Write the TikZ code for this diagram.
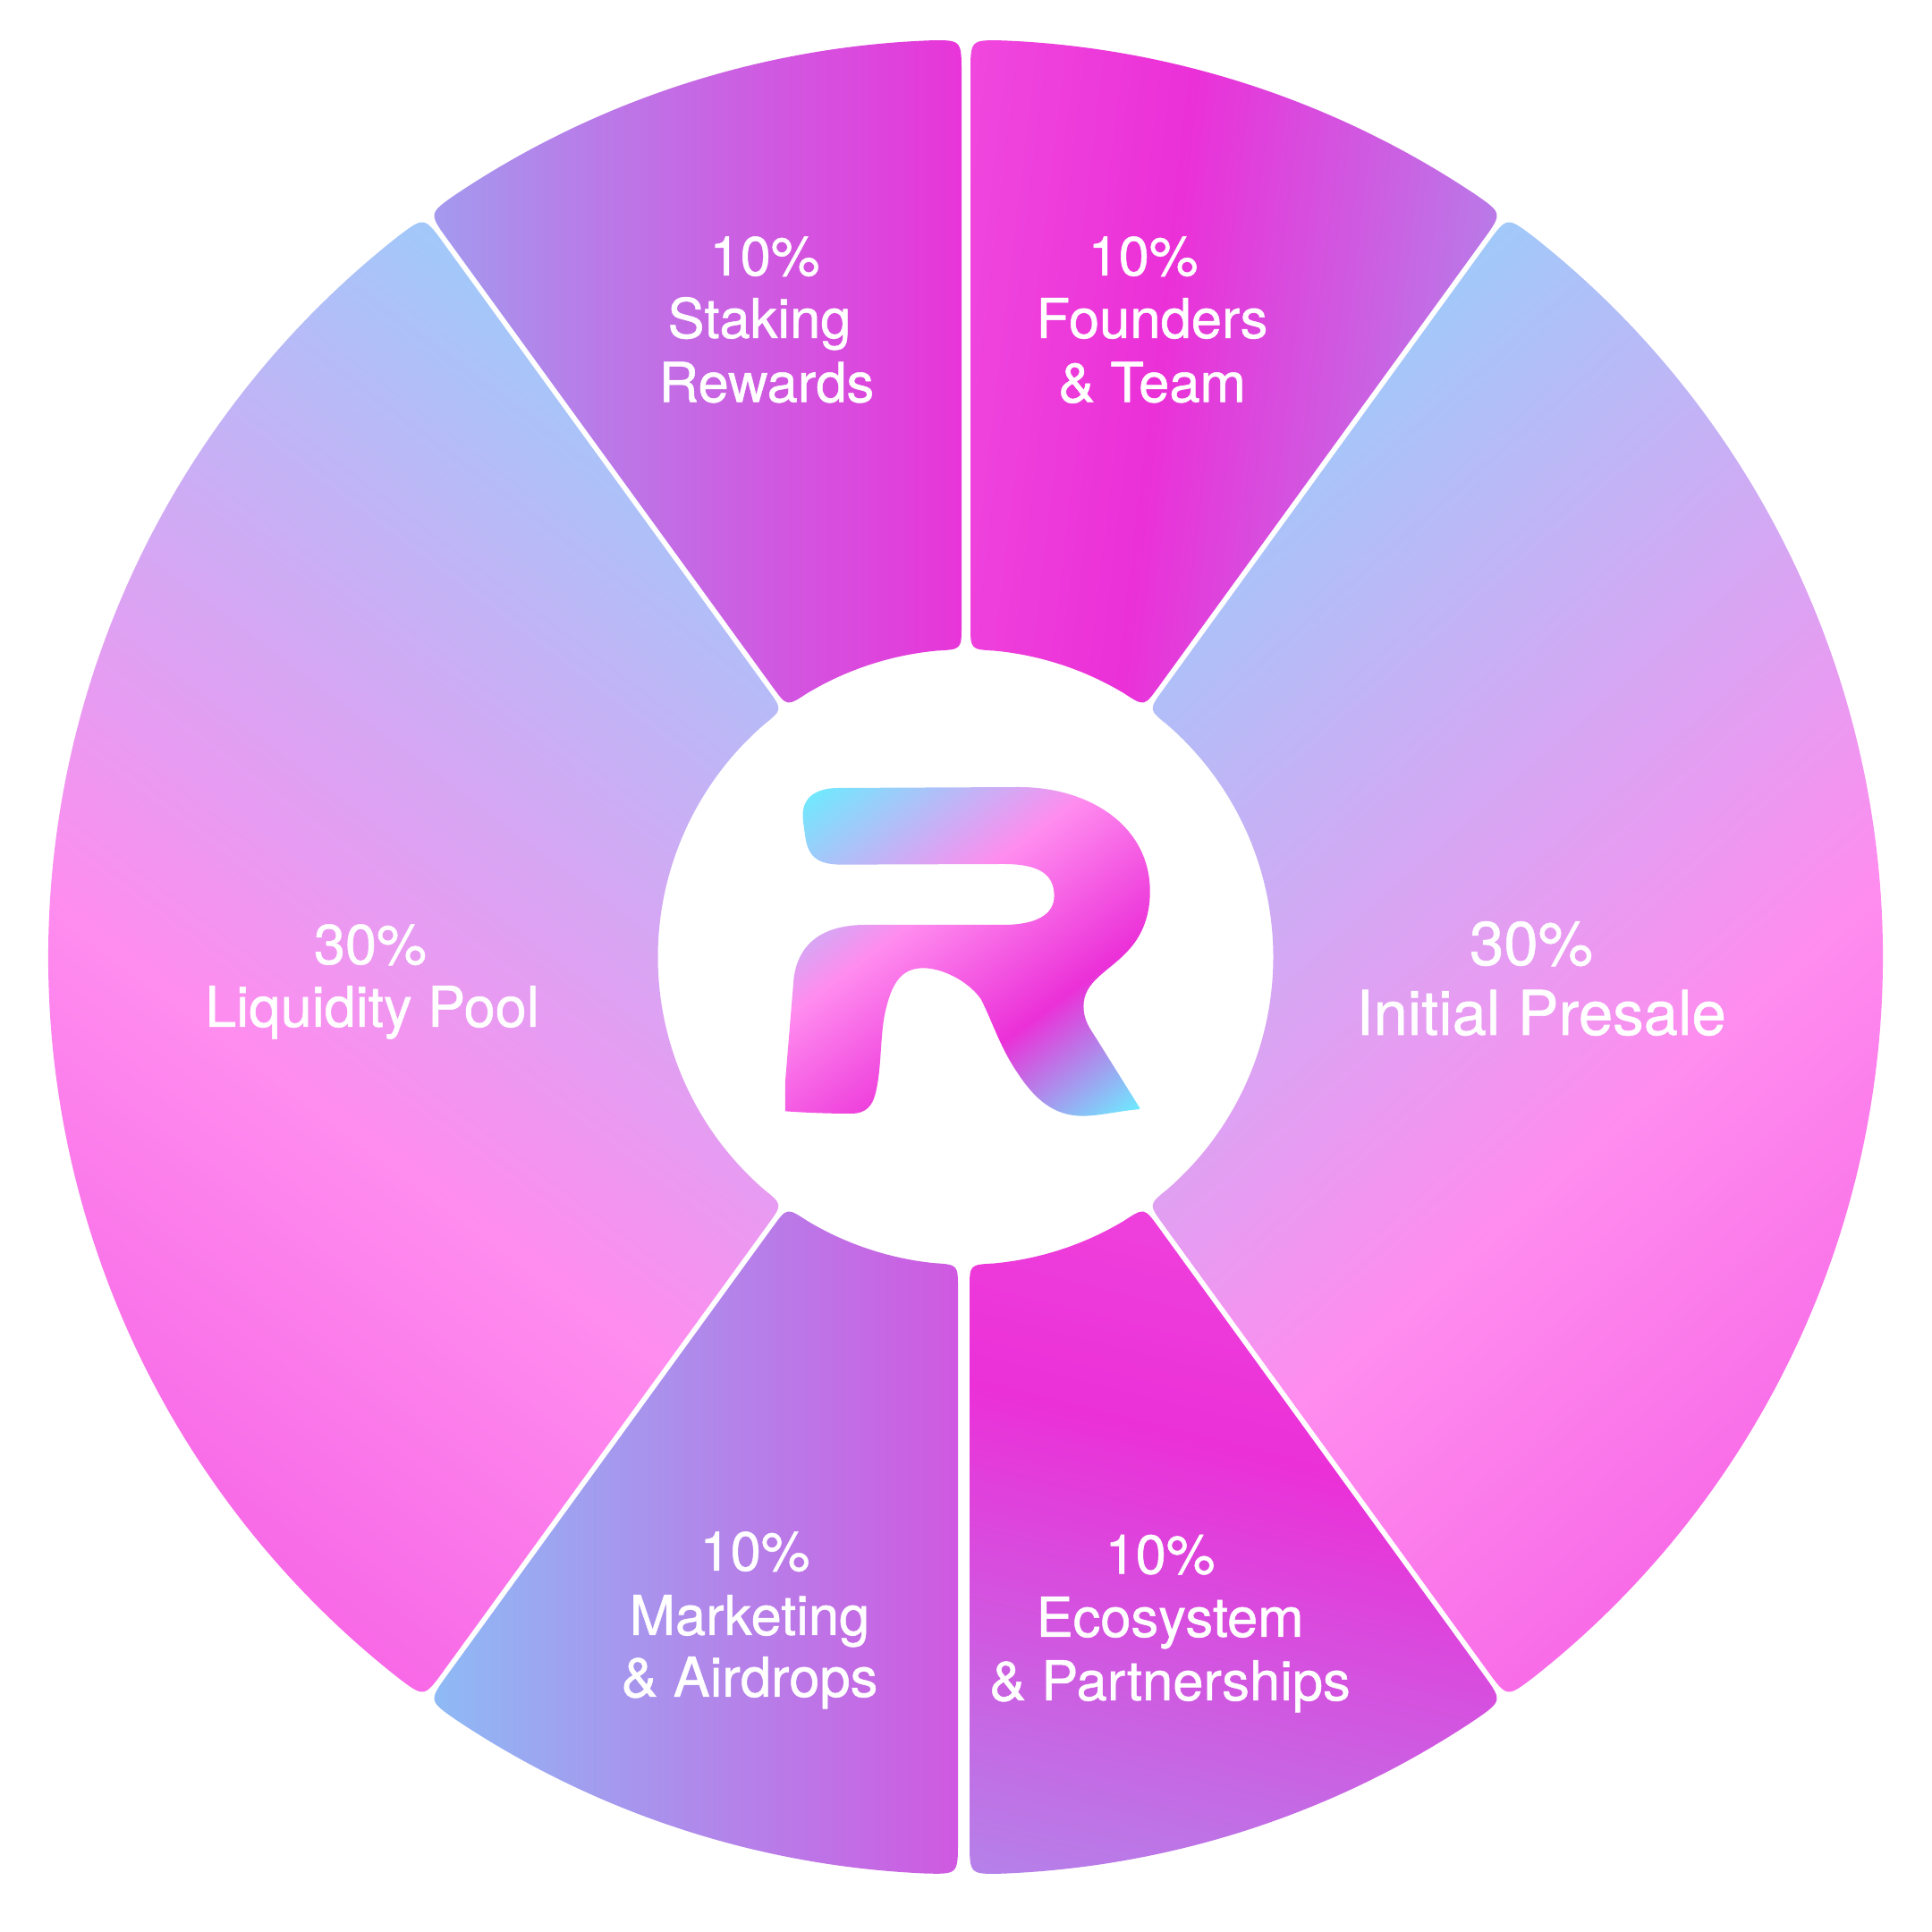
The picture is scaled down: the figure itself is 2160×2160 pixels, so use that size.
\documentclass[tikz,border=0pt]{standalone}
\usepackage{fontspec}
\setmainfont[FakeBold=0.8]{TeX Gyre Heros}
\definecolor{gcyan}{HTML}{6EEAFF}
\definecolor{gpink}{HTML}{FF8CEF}
\definecolor{gmag}{HTML}{EB30D8}
\pgfdeclarehorizontalshading{brandgrad}{100bp}{color(0bp)=(gcyan); color(25bp)=(gcyan); color(43.5bp)=(gpink); color(60bp)=(gmag); color(75bp)=(gcyan); color(100bp)=(gcyan)}
\def\Ro{1025.6}
\def\Ri{344}
\def\rhO{37}
\def\rhI{27}
\def\Wd{3000}
\newcommand\brandfill[5]{%
  \pgfmathsetmacro\sx{#1-#3*#4*cos(#5)}%
  \pgfmathsetmacro\sy{2160-#2-#3*#4*sin(#5)}%
  \begin{scope}[transform canvas={shift={(\sx pt,\sy pt)},rotate=#5}]
    \shade[shading=brandgrad] (0,-\Wd) rectangle (#4,\Wd);
  \end{scope}}
% a1 a2 g1 g2 qx qy t L ang
\newcommand\wedgeseg[9]{%
  \begin{scope}
    \pgfmathsetmacro\dO{\rhO/\Ro*57.3}%
    \pgfmathsetmacro\dI{\rhI/\Ri*57.3}%
    \pgfmathsetmacro\Ao{#1-asin(#3/\Ro)}%
    \pgfmathsetmacro\Bo{#2+asin(#4/\Ro)}%
    \pgfmathsetmacro\Ai{#1-asin(#3/\Ri)}%
    \pgfmathsetmacro\Bi{#2+asin(#4/\Ri)}%
    \pgfmathsetmacro\Aoe{#1-asin(#3/(\Ro-\rhO))}%
    \pgfmathsetmacro\Boe{#2+asin(#4/(\Ro-\rhO))}%
    \pgfmathsetmacro\Aie{#1-asin(#3/(\Ri+\rhI))}%
    \pgfmathsetmacro\Bie{#2+asin(#4/(\Ri+\rhI))}%
    \pgfmathsetmacro\Rin{\Ri+\rhI}%
    \pgfmathsetmacro\Rou{\Ro-\rhO}%
    \pgfmathsetmacro\As{\Ao-\dO}\pgfmathsetmacro\Bs{\Bo+\dO}%
    \pgfmathsetmacro\Ci{\Bi+\dI}\pgfmathsetmacro\Di{\Ai-\dI}%
    \clip[shift={(1079.5,1090)}]
      (\As:\Ro) arc[start angle=\As,end angle=\Bs,radius=\Ro]
      .. controls (\Bo:\Ro) .. (\Boe:\Rou)
      -- (\Bie:\Rin)
      .. controls (\Bi:\Ri) .. (\Ci:\Ri)
      arc[start angle=\Ci,end angle=\Di,radius=\Ri]
      .. controls (\Ai:\Ri) .. (\Aie:\Rin)
      -- (\Aoe:\Rou)
      .. controls (\Ao:\Ro) .. cycle;
    \brandfill{#5}{#6}{#7}{#8}{#9}
  \end{scope}}
\tikzset{
  x=1pt,y=1pt,
  bigtxt/.style={anchor=base,text=white,inner sep=0pt,font=\fontsize{69}{69}\selectfont},
  midtxt/.style={anchor=base,text=white,inner sep=0pt,font=\fontsize{61.5}{61.5}\selectfont},
  pooltxt/.style={anchor=base,text=white,inner sep=0pt,font=\fontsize{63}{63}\selectfont}
}
\begin{document}
\begin{tikzpicture}[x=1pt,y=1pt]
\useasboundingbox (0,0) rectangle (2160,2160);
\fill[white] (0,0) rectangle (2160,2160);
% Founders, Presale, Ecosystem, Marketing, Liquidity, Staking
\wedgeseg{90}{54}{5.5}{3}{1338}{47}{0.70}{3000}{-6.8}
\wedgeseg{54}{-54}{3}{3}{1695}{250}{0.133}{3506}{-48.6}
\wedgeseg{-54}{-90}{3}{4.5}{1118}{1555}{0.70}{4070}{-103.9}
\wedgeseg{270}{234}{8.5}{3}{1075}{1800}{0.765}{3740}{180}
\wedgeseg{234}{126}{3}{3}{471}{252}{0.133}{3620}{-126.87}
\wedgeseg{126}{90}{3}{4.5}{1100}{300}{0.70}{3600}{180}
% Logo
\begin{scope}
\clip[shift={(800,1360)},xscale=0.35714,yscale=-0.33333]
  (385,243) -- (950,240)
  .. controls (1170,240) and (1360,370) .. (1360,590)
  .. controls (1360,680) and (1330,745) .. (1290,790)
  .. controls (1230,860) and (1152,890) .. (1152,975)
  .. controls (1152,1020) and (1170,1047) .. (1190,1080)
  -- (1330,1320)
  .. controls (1270,1325) and (1200,1343) .. (1150,1343)
  .. controls (1060,1343) and (1000,1290) .. (940,1190)
  .. controls (890,1110) and (860,1010) .. (830,950)
  .. controls (790,890) and (710,847) .. (650,847)
  .. controls (580,847) and (550,900) .. (530,1000)
  .. controls (515,1075) and (520,1190) .. (500,1270)
  .. controls (490,1310) and (470,1335) .. (425,1335)
  .. controls (350,1335) and (280,1332) .. (218,1327)
  -- (218,1230) -- (245,880)
  .. controls (260,760) and (340,702) .. (470,702)
  -- (900,702)
  .. controls (1000,702) and (1060,670) .. (1060,605)
  .. controls (1060,530) and (1010,498) .. (900,498)
  -- (395,500)
  .. controls (315,500) and (288,470) .. (280,400)
  .. controls (276,370) and (273,350) .. (273,335)
  .. controls (273,270) and (320,243) .. (385,243) -- cycle;
\brandfill{897.5}{890}{0}{505}{-53.5}
\end{scope}
% Labels (x, 2160 - baseline)
\node[midtxt] (stakingpct) at (855,1852) {10\%};
\node[midtxt] (stakingone) at (849,1782) {Staking};
\node[midtxt] (stakingtwo) at (857,1710.5) {Rewards};
\node[midtxt] (founderspct) at (1278,1852) {10\%};
\node[midtxt] (foundersone) at (1288,1782) {Founders};
\node[midtxt] (founderstwo) at (1288,1710.5) {\& Team};
\node[bigtxt] (presalepct) at (1712,1081) {30\%};
\node[bigtxt] (presaleone) at (1723,1003) {Initial Presale};
\node[pooltxt] (poolpct) at (414,1082) {30\%};
\node[pooltxt] (poolone) at (416,1012) {Liquidity Pool};
\node[midtxt] (marketpct) at (844,404) {10\%};
\node[midtxt] (marketone) at (838,332) {Marketing};
\node[midtxt] (markettwo) at (838,263) {\& Airdrops};
\node[midtxt] (ecopct) at (1297,400.5) {10\%};
\node[midtxt] (ecoone) at (1308,330) {Ecosystem};
\node[midtxt] (ecotwo) at (1308,259) {\& Partnerships};
\end{tikzpicture}
\end{document}
